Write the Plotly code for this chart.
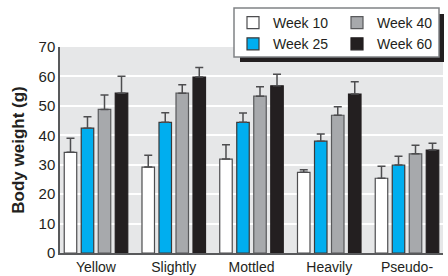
import plotly.graph_objects as go

categories = ["Yellow", "Slightly", "Mottled", "Heavily", "Pseudo-"]
series_names = ["Week 10", "Week 25", "Week 40", "Week 60"]
week10 = [34.2, 29.2, 31.9, 27.4, 25.4]
week10_err = [4.8, 4.0, 4.9, 0.9, 4.1]
week25 = [42.4, 44.4, 44.4, 38.0, 29.9]
week25_err = [3.9, 3.3, 3.2, 2.4, 3.0]
week40 = [48.8, 54.3, 53.3, 46.8, 33.7]
week40_err = [4.9, 2.9, 3.2, 2.9, 2.9]
week60 = [54.3, 59.8, 56.8, 54.0, 35.0]
week60_err = [5.8, 3.2, 3.9, 4.2, 2.3]
y_ticks = [0, 10, 20, 30, 40, 50, 60, 70]

colors = ["#ffffff", "#00aeef", "#a7a9ac", "#231f20"]
outlines = ["#4d4d4f", "#3a3a3a", "#58595b", "#231f20"]
legend_ids = ["legend", "legend", "legend2", "legend2"]

FONT = "Liberation Sans, Arial, sans-serif"
TXT = "#231f20"

# plot area geometry (pixels) used to place the legend box in paper coords
L, R, T, B, W, H = 60, 5, 47, 23, 448, 276
PW, PH = W - L - R, H - T - B


def px_x(x):
    return (x - L) / PW


def px_y(y):
    return (H - B - y) / PH


fig = go.Figure()
for name, vals, errs, col, oc, lg in zip(series_names, [week10, week25, week40, week60],
                                         [week10_err, week25_err, week40_err, week60_err],
                                         colors, outlines, legend_ids):
    fig.add_trace(go.Bar(
        name=name, x=categories, y=vals,
        marker=dict(color=col, line=dict(color=oc, width=1.2)),
        error_y=dict(type="data", symmetric=False, array=errs, arrayminus=[0] * len(errs),
                     color="#4d4d4f", thickness=1.5, width=4),
        legend=lg,
        hoverinfo="skip",
    ))

leg_common = dict(
    orientation="v", xanchor="left", yanchor="top",
    bgcolor="rgba(0,0,0,0)", borderwidth=0,
    font=dict(family=FONT, size=14, color=TXT),
    traceorder="normal", tracegroupgap=0,
)

fig.update_layout(
    width=W, height=H,
    margin=dict(l=L, r=R, t=T, b=B, autoexpand=False),
    paper_bgcolor="white",
    plot_bgcolor="#e6e7e8",
    barmode="group",
    bargap=0.125,
    bargroupgap=0.265,
    font=dict(family=FONT, size=14, color=TXT),
    showlegend=True,
    legend=dict(x=px_x(233), y=px_y(7), **leg_common),
    legend2=dict(x=px_x(337), y=px_y(7), **leg_common),
    xaxis=dict(
        range=[-0.463, 4.463],
        showgrid=False, ticks="", showline=True, linecolor="#58595b", linewidth=1.5,
        tickfont=dict(family=FONT, size=14, color=TXT),
        automargin=False,
    ),
    yaxis=dict(
        range=[0, 70], tickvals=y_ticks, showgrid=True, gridcolor="white", gridwidth=1.5,
        showline=True, linecolor="#58595b", linewidth=1.5, ticks="",
        zeroline=False,
        tickfont=dict(family=FONT, size=15, color=TXT),
        title=dict(text="<b>Body weight (g)</b>", font=dict(family=FONT, size=17, color=TXT), standoff=10),
        automargin=False,
    ),
)

# legend drop shadow and box
fig.add_shape(type="rect", xref="paper", yref="paper",
              x0=px_x(240), x1=px_x(444), y0=px_y(62), y1=px_y(14),
              fillcolor="#231f20", line=dict(width=0), layer="above")
fig.add_shape(type="rect", xref="paper", yref="paper",
              x0=px_x(234), x1=px_x(439), y0=px_y(57), y1=px_y(8),
              fillcolor="white", line=dict(color="#808285", width=1.5), layer="above")

fig.write_html("out.html", config={"displayModeBar": False},
               post_script="document.body.style.margin='0';")
